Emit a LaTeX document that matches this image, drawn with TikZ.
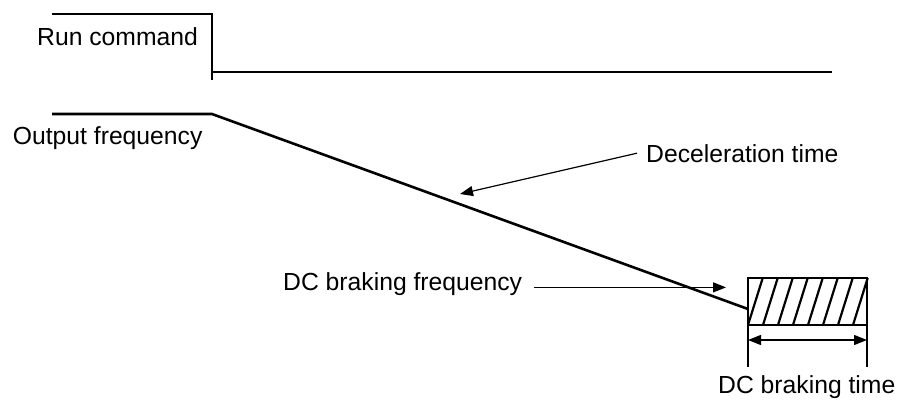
\documentclass[tikz,border=0pt]{standalone}
\usepackage{fontspec}
\setmainfont{Liberation Sans}
\usetikzlibrary{arrows.meta, positioning, calc}

\begin{document}
\begin{tikzpicture}[
    x=1bp, y=-1bp,
    signal/.style={line width=2.6bp, line join=miter},
    hatch/.style={line width=2.2bp},
    pointer/.style={-{Triangle[length=13bp, width=10bp]}, line width=1.2bp},
    span/.style={{Triangle[length=13bp, width=10bp]}-{Triangle[length=13bp, width=10bp]}, line width=1.2bp},
    label/.style={inner sep=0pt, anchor=base west, font=\fontsize{24.8}{28}\selectfont}
]
\useasboundingbox (0,0) rectangle (897,401);

% Run command
\node[label] (run) at (37,45) {Run command};
\coordinate (run0) at (52,14);
\coordinate (runoff) at (212,14);
\coordinate (runend) at (832,72);
\draw[signal] (run0) -- (runoff) -- ++(0,66);
\draw[signal] (runoff |- runend) -- (runend);

% Output frequency
\node[label] (out) at (12.7,144) {Output frequency};
\coordinate (out0) at (52,114);
\coordinate (decstart) at (212,114);

% DC braking window
\node[draw, line width=2.6bp, minimum width=119bp, minimum height=47bp,
      inner sep=0pt, outer sep=0pt, anchor=north west] (brake) at (748,278) {};
\draw[signal] (out0) -- (decstart) -- (brake.west |- 0,309);
\foreach \i in {0,...,7}
    \draw[hatch] ($(brake.south west)+(\i*15,0)$) -- ++(14.7,-47);
\draw[signal] (brake.south west) -- ++(0,42);
\draw[signal] (brake.south east) -- ++(0,42);
\draw[span] ($(brake.south west)+(0,15)$) -- ($(brake.south east)+(0,15)$);

% Labels
\node[label] (decel) at (646,162) {Deceleration time};
\coordinate (slope) at (460,194);
\draw[pointer] ([xshift=-9bp]decel.west) -- (slope);

\node[label] (freq) at (283,290) {DC braking frequency};
\coordinate (fbrk) at (726,283);
\draw[pointer] ([xshift=12bp]freq.mid east) -- (freq.mid east -| fbrk);

\node[label] (time) at (718,393) {DC braking time};

\end{tikzpicture}
\end{document}
